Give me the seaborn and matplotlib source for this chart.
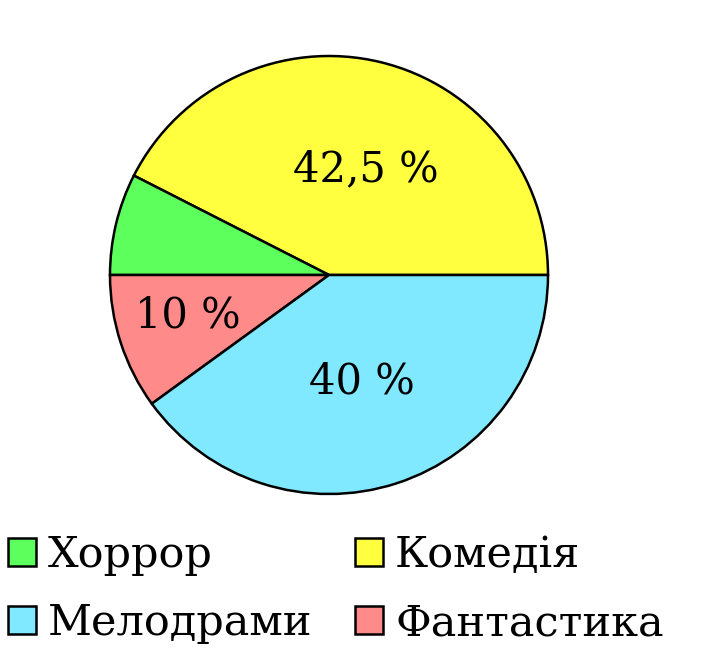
import numpy as np
import matplotlib
matplotlib.use("Agg")
import matplotlib.pyplot as plt
from matplotlib.patches import Patch
import seaborn as sns

# ---- data ----
categories = ["Комедія", "Хоррор", "Фантастика", "Мелодрами"]
values = [42.5, 7.5, 10, 40]
pct_labels = ["42,5 %", "", "10 %", "40 %"]
colors = ["#ffff40", "#5cff5c", "#ff8a8a", "#80e8ff"]
legend_order = ["Хоррор", "Мелодрами", "Комедія", "Фантастика"]

# ---- style ----
label_dist = [0.51, 0.0, 0.67, 0.51]
label_angle_shift = [-6, 0, -2, -1]

sns.set_theme(style="white")
plt.rcParams["font.family"] = ["DejaVu Serif"]
plt.rcParams["text.color"] = "black"

fig = plt.figure(figsize=(7.12, 6.64), dpi=100)
ax = fig.add_axes([(329 - 219) / 712, (664 - 275 - 219) / 664, 438 / 712, 438 / 664])

wedges, _ = ax.pie(values, colors=colors, startangle=0, counterclock=True,
                   wedgeprops=dict(edgecolor="black", linewidth=1.8))
ax.set_xlim(-1.0, 1.0)
ax.set_ylim(-1.0, 1.0)
ax.set_aspect("equal")
ax.axis("off")

for w, lab, d, sh in zip(wedges, pct_labels, label_dist, label_angle_shift):
    if not lab:
        continue
    ang = np.deg2rad((w.theta1 + w.theta2) / 2 + sh)
    ax.text(d * np.cos(ang), d * np.sin(ang), lab, ha="center", va="center",
            fontsize=30, color="black")

cmap = dict(zip(categories, colors))
handles = [Patch(facecolor=cmap[c], edgecolor="black", linewidth=1.8) for c in legend_order]
leg = fig.legend(handles, legend_order, ncol=2, loc="upper left",
                 bbox_to_anchor=(4 / 712, 1 - 530 / 664), frameon=False, fontsize=31,
                 handlelength=0.64, handleheight=0.64, handletextpad=0.28,
                 columnspacing=1.0, labelspacing=0.6, borderpad=0.1, borderaxespad=0.0)
for t in leg.get_texts():
    t.set_color("black")

fig.savefig("out.png", dpi=100)
